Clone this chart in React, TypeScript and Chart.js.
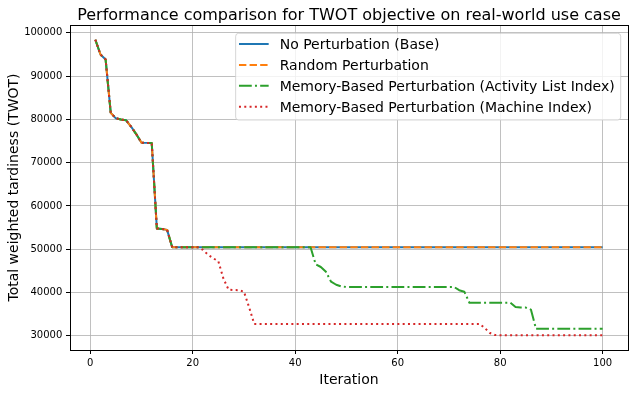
import React, { useEffect, useRef } from "react";
import { Chart, registerables } from "chart.js";

Chart.register(...registerables);

const iterations = [
  1, 2, 3, 4, 5, 6, 7, 8, 9, 10,
  11, 12, 13, 14, 15, 16, 17, 18, 19, 20,
  21, 22, 23, 24, 25, 26, 27, 28, 29, 30,
  31, 32, 33, 34, 35, 36, 37, 38, 39, 40,
  41, 42, 43, 44, 45, 46, 47, 48, 49, 50,
  51, 52, 53, 54, 55, 56, 57, 58, 59, 60,
  61, 62, 63, 64, 65, 66, 67, 68, 69, 70,
  71, 72, 73, 74, 75, 76, 77, 78, 79, 80,
  81, 82, 83, 84, 85, 86, 87, 88, 89, 90,
  91, 92, 93, 94, 95, 96, 97, 98, 99, 100,
];

const noPerturbation = [
  98400, 95000, 93850, 81500, 80250, 79970, 79800, 78300, 76550, 74620,
  74580, 74560, 54820, 54700, 54480, 50450, 50450, 50450, 50450, 50450,
  50450, 50450, 50450, 50450, 50450, 50450, 50450, 50450, 50450, 50450,
  50450, 50450, 50450, 50450, 50450, 50450, 50450, 50450, 50450, 50450,
  50450, 50450, 50450, 50450, 50450, 50450, 50450, 50450, 50450, 50450,
  50450, 50450, 50450, 50450, 50450, 50450, 50450, 50450, 50450, 50450,
  50450, 50450, 50450, 50450, 50450, 50450, 50450, 50450, 50450, 50450,
  50450, 50450, 50450, 50450, 50450, 50450, 50450, 50450, 50450, 50450,
  50450, 50450, 50450, 50450, 50450, 50450, 50450, 50450, 50450, 50450,
  50450, 50450, 50450, 50450, 50450, 50450, 50450, 50450, 50450, 50450,
];

const randomPerturbation = [
  98400, 95000, 93850, 81500, 80250, 79970, 79800, 78300, 76550, 74620,
  74580, 74560, 54820, 54700, 54480, 50450, 50450, 50450, 50450, 50450,
  50450, 50450, 50450, 50450, 50450, 50450, 50450, 50450, 50450, 50450,
  50450, 50450, 50450, 50450, 50450, 50450, 50450, 50450, 50450, 50450,
  50450, 50450, 50450, 50450, 50450, 50450, 50450, 50450, 50450, 50450,
  50450, 50450, 50450, 50450, 50450, 50450, 50450, 50450, 50450, 50450,
  50450, 50450, 50450, 50450, 50450, 50450, 50450, 50450, 50450, 50450,
  50450, 50450, 50450, 50450, 50450, 50450, 50450, 50450, 50450, 50450,
  50450, 50450, 50450, 50450, 50450, 50450, 50450, 50450, 50450, 50450,
  50450, 50450, 50450, 50450, 50450, 50450, 50450, 50450, 50450, 50450,
];

const activityListIndex = [
  98400, 95000, 93850, 81500, 80250, 79970, 79800, 78300, 76550, 74620,
  74580, 74560, 54820, 54700, 54480, 50450, 50450, 50450, 50450, 50450,
  50450, 50450, 50450, 50450, 50450, 50450, 50450, 50450, 50450, 50450,
  50450, 50450, 50450, 50450, 50450, 50450, 50450, 50450, 50450, 50450,
  50450, 50450, 50450, 46500, 45900, 44800, 42500, 41800, 41400, 41300,
  41300, 41300, 41300, 41300, 41300, 41300, 41300, 41300, 41300, 41300,
  41300, 41300, 41300, 41300, 41300, 41300, 41300, 41300, 41300, 41300,
  41300, 40550, 40200, 37650, 37650, 37650, 37650, 37650, 37650, 37650,
  37650, 37650, 36680, 36520, 36520, 36060, 31610, 31610, 31610, 31610,
  31610, 31610, 31610, 31610, 31610, 31610, 31610, 31610, 31610, 31610,
];

const machineIndex = [
  98400, 95000, 93850, 81500, 80250, 79970, 79800, 78300, 76550, 74620,
  74580, 74560, 54820, 54700, 54480, 50450, 50450, 50450, 50450, 50450,
  50450, 49870, 48720, 47920, 47220, 43200, 40660, 40590, 40550, 40200,
  36630, 32750, 32750, 32750, 32750, 32750, 32750, 32750, 32750, 32750,
  32750, 32750, 32750, 32750, 32750, 32750, 32750, 32750, 32750, 32750,
  32750, 32750, 32750, 32750, 32750, 32750, 32750, 32750, 32750, 32750,
  32750, 32750, 32750, 32750, 32750, 32750, 32750, 32750, 32750, 32750,
  32750, 32750, 32750, 32750, 32750, 32750, 31800, 30650, 30190, 30140,
  30140, 30140, 30140, 30140, 30140, 30140, 30140, 30140, 30140, 30140,
  30140, 30140, 30140, 30140, 30140, 30140, 30140, 30140, 30140, 30140,
];

const seriesLabels = [
  "No Perturbation (Base)",
  "Random Perturbation",
  "Memory-Based Perturbation (Activity List Index)",
  "Memory-Based Perturbation (Machine Index)",
];

const xTickValues = [0, 20, 40, 60, 80, 100];
const yTickValues = [30000, 40000, 50000, 60000, 70000, 80000, 90000, 100000];

const titleText = "Performance comparison for TWOT objective on real-world use case";
const xTitleText = "Iteration";
const yTitleText = "Total weighted tardiness (TWOT)";

const FONT = "'DejaVu Sans', sans-serif";

const seriesStyles = [
  { color: "#1f77b4", dash: [] as number[] },
  { color: "#ff7f0e", dash: [7.4, 3.2] },
  { color: "#2ca02c", dash: [12.8, 3.2, 2, 3.2] },
  { color: "#d62728", dash: [2, 3.3] },
];

export default function App() {
  const ref = useRef<HTMLCanvasElement>(null);

  useEffect(() => {
    const canvas = ref.current;
    if (!canvas) return;
    const series = [noPerturbation, randomPerturbation, activityListIndex, machineIndex];
    const all = series.flat();
    const dMin = Math.min(...all);
    const dMax = Math.max(...all);
    const yPad = (dMax - dMin) * 0.05;
    const x0 = iterations[0];
    const x1 = iterations[iterations.length - 1];
    const xPad = (x1 - x0) * 0.05;

    const datasets = series.map((vals, k) => ({
      label: seriesLabels[k],
      data: iterations.map((x, i) => ({ x, y: vals[i] })),
      borderColor: seriesStyles[k].color,
      backgroundColor: seriesStyles[k].color,
      borderWidth: 2,
      borderDash: seriesStyles[k].dash,
      borderCapStyle: "butt" as const,
      borderJoinStyle: "round" as const,
      pointRadius: 0,
      pointHoverRadius: 0,
      fill: false,
      tension: 0,
      order: series.length - k,
    }));

    const decor = {
      id: "decor",
      beforeDraw(chart: any) {
        const ctx = chart.ctx;
        ctx.save();
        ctx.fillStyle = "#ffffff";
        ctx.fillRect(0, 0, chart.width, chart.height);
        ctx.restore();
      },
      afterDatasetsDraw(chart: any) {
        const ctx = chart.ctx as CanvasRenderingContext2D;
        const a = chart.chartArea;
        ctx.save();
        // frame
        ctx.strokeStyle = "#000000";
        ctx.lineWidth = 1;
        ctx.setLineDash([]);
        ctx.strokeRect(Math.round(a.left) + 0.5, Math.round(a.top) + 0.5, Math.round(a.right - a.left), Math.round(a.bottom - a.top));

        // legend
        ctx.font = `14px ${FONT}`;
        const maxW = Math.max(...seriesLabels.map((s) => ctx.measureText(s).width));
        const padL = 3.3;
        const handleLen = 29.7;
        const gap = 11;
        const padR = 6;
        const w = padL + handleLen + gap + maxW + padR;
        const h = 86.7;
        const right = a.right - 7.3;
        const top = a.top + 8.3;
        const left = right - w;
        const r = 3;
        ctx.beginPath();
        ctx.moveTo(left + r, top);
        ctx.lineTo(left + w - r, top);
        ctx.arcTo(left + w, top, left + w, top + r, r);
        ctx.lineTo(left + w, top + h - r);
        ctx.arcTo(left + w, top + h, left + w - r, top + h, r);
        ctx.lineTo(left + r, top + h);
        ctx.arcTo(left, top + h, left, top + h - r, r);
        ctx.lineTo(left, top + r);
        ctx.arcTo(left, top, left + r, top, r);
        ctx.closePath();
        ctx.fillStyle = "rgba(255,255,255,0.8)";
        ctx.fill();
        ctx.strokeStyle = "rgba(204,204,204,0.8)";
        ctx.lineWidth = 1;
        ctx.stroke();

        const rowH = 20.9;
        const firstRow = 10.7;
        seriesLabels.forEach((label, k) => {
          const y = top + firstRow + k * rowH;
          ctx.beginPath();
          ctx.setLineDash(seriesStyles[k].dash);
          ctx.lineDashOffset = 0;
          ctx.lineCap = "butt";
          ctx.strokeStyle = seriesStyles[k].color;
          ctx.lineWidth = 2;
          ctx.moveTo(left + padL, y);
          ctx.lineTo(left + padL + handleLen, y);
          ctx.stroke();
          ctx.setLineDash([]);
          ctx.fillStyle = "#000000";
          ctx.textAlign = "left";
          ctx.textBaseline = "alphabetic";
          ctx.fillText(label, left + padL + handleLen + gap, y + 5.1);
        });
        ctx.restore();
      },
      afterDraw(chart: any) {
        const ctx = chart.ctx as CanvasRenderingContext2D;
        const a = chart.chartArea;
        ctx.save();
        ctx.fillStyle = "#000000";
        // title
        ctx.font = `16px ${FONT}`;
        ctx.textAlign = "center";
        ctx.textBaseline = "alphabetic";
        ctx.fillText(titleText, (a.left + a.right) / 2, a.top - 5.5);
        // x title
        ctx.font = `14px ${FONT}`;
        ctx.fillText(xTitleText, (a.left + a.right) / 2, 383.5);
        // y title
        ctx.translate(17.5, (a.top + a.bottom) / 2);
        ctx.rotate(-Math.PI / 2);
        ctx.fillText(yTitleText, 0, 0);
        ctx.restore();
      },
    };

    const tickFont = { family: FONT, size: 10 };

    const chart = new Chart(canvas, {
      type: "line",
      data: { datasets },
      options: {
        responsive: false,
        animation: false,
        events: [],
        layout: { padding: { top: 25, right: 7, bottom: 0, left: 0 } },
        plugins: {
          legend: { display: false },
          title: { display: false },
          tooltip: { enabled: false },
        },
        scales: {
          x: {
            type: "linear",
            min: x0 - xPad,
            max: x1 + xPad,
            afterBuildTicks: (axis: any) => {
              axis.ticks = xTickValues.map((v) => ({ value: v }));
            },
            afterFit: (axis: any) => {
              axis.height = 43;
            },
            grid: {
              color: "#b0b0b0",
              lineWidth: 0.8,
              tickColor: "#000000",
              tickLength: 4,
              tickWidth: 1,
            },
            border: { display: false },
            ticks: {
              color: "#000000",
              font: tickFont,
              padding: 3.5,
              maxRotation: 0,
              autoSkip: false,
              callback: (v: any) => String(v),
            },
          },
          y: {
            type: "linear",
            min: dMin - yPad,
            max: dMax + yPad,
            afterBuildTicks: (axis: any) => {
              axis.ticks = yTickValues.map((v) => ({ value: v }));
            },
            afterFit: (axis: any) => {
              axis.width = 70;
            },
            grid: {
              color: "#b0b0b0",
              lineWidth: 0.8,
              tickColor: "#000000",
              tickLength: 4,
              tickWidth: 1,
            },
            border: { display: false },
            ticks: {
              color: "#000000",
              font: tickFont,
              padding: 3.7,
              autoSkip: false,
              callback: (v: any) => String(v),
            },
          },
        },
      },
      plugins: [decor],
    } as any);

    return () => chart.destroy();
  }, []);

  return (
    <div style={{ position: "absolute", left: 0, top: 0, width: 635, height: 393, background: "#ffffff" }}>
      <canvas ref={ref} width={635} height={393} style={{ display: "block", width: 635, height: 393 }} />
    </div>
  );
}
